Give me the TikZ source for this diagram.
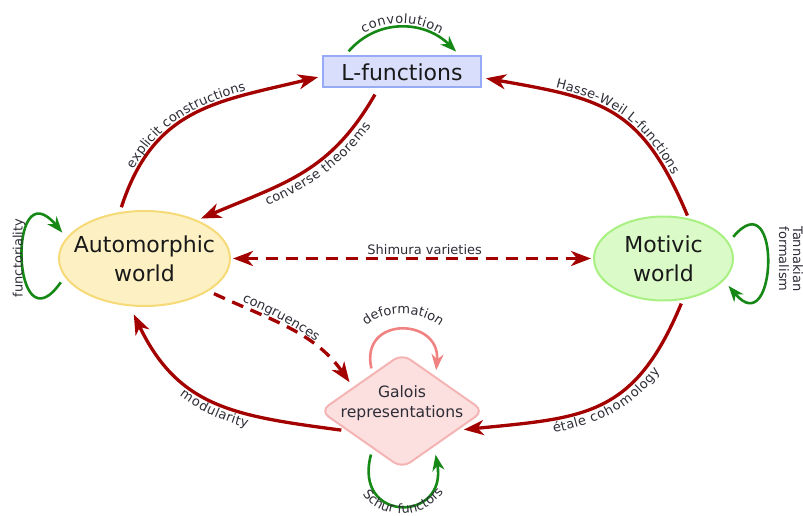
\documentclass[tikz,border=0pt]{standalone}
\usepackage{fontspec}
\setmainfont{DejaVu Sans}
\usetikzlibrary{arrows.meta,shapes.geometric,decorations.text}
\definecolor{redc}{RGB}{163,0,0}
\definecolor{grnc}{RGB}{22,136,22}
\definecolor{pinkc}{RGB}{240,130,130}
\definecolor{labc}{RGB}{45,45,55}
\definecolor{txtc}{RGB}{25,25,25}
\definecolor{Lfill}{RGB}{216,222,252}
\definecolor{Lbord}{RGB}{150,170,245}
\definecolor{Afill}{RGB}{253,241,196}
\definecolor{Abord}{RGB}{246,218,120}
\definecolor{Mfill}{RGB}{218,250,200}
\definecolor{Mbord}{RGB}{168,240,130}
\definecolor{Gfill}{RGB}{252,223,223}
\definecolor{Gbord}{RGB}{245,180,180}
\newcommand\lblfont{\fontsize{13pt}{15pt}\selectfont}
\newcommand\bigfont{\fontsize{22pt}{29pt}\selectfont}
\newcommand\galfont{\fontsize{15.6pt}{20pt}\selectfont}
\begin{document}
\begin{tikzpicture}[x=1pt,y=1pt,
  redarr/.style={draw=redc,line width=3.3pt,-{Stealth[length=20pt,width=15pt,inset=6pt]}},
  grnarr/.style={draw=grnc,line width=2.6pt,-{Stealth[length=16pt,width=12pt,inset=5pt]}},
  pinkarr/.style={draw=pinkc,line width=2.6pt,-{Stealth[length=16pt,width=12pt,inset=5pt]}},
  dashline/.style={dash pattern=on 12pt off 8pt},
  along/.style 2 args={decorate,decoration={text along path,text={|\lblfont|#2},text align=center,raise=#1,text color=labc}},
  alongl/.style n args={3}{decorate,decoration={text along path,text={|\lblfont|#2},text align={left indent=#3},raise=#1,text color=labc}},
  lbl/.style={font=\lblfont,text=labc,inner sep=1.5pt},
  Lbox/.style={rectangle,draw=Lbord,fill=Lfill,line width=2pt,minimum width=158pt,minimum height=31pt,inner sep=0pt,font=\bigfont,text=txtc},
  Aell/.style={ellipse,draw=Abord,fill=Afill,line width=2pt,minimum width=171pt,minimum height=95pt,inner sep=0pt},
  Mell/.style={ellipse,draw=Mbord,fill=Mfill,line width=2pt,minimum width=139pt,minimum height=84pt,inner sep=0pt},
  Gdia/.style={diamond,draw=Gbord,fill=Gfill,line width=2pt,minimum width=164pt,minimum height=115pt,inner sep=0pt,rounded corners=10pt},
  bigtxt/.style={font=\bigfont,text=txtc,align=center,inner sep=0pt},
  galtxt/.style={font=\galfont,text=labc,align=center,inner sep=0pt},
]
\useasboundingbox (0,0) rectangle (803,-516);

% nodes
\node[Lbox] (L) at (402,-72) {L-functions};
\node[Aell] (A) at (144.5,-258.5) {};
\node[bigtxt] (At) at (A) {Automorphic\\world};
\node[Mell] (M) at (663.5,-258.5) {};
\node[bigtxt] (Mt) at (M) {Motivic\\world};
\node[Gdia] (G) at (402,-411) {};
\node[galtxt] (Gt) at (402,-403) {Galois\\representations};

% explicit constructions
\draw[redarr,shorten <=5pt,shorten >=4pt] (A.118) to[out=72,in=193.5,looseness=1.15] (L.183);
\path[alongl={4pt}{explicit constructions}{44pt}] (A.118) to[out=72,in=193.5,looseness=1.15] (L.183);

% converse theorems
\draw[redarr,shorten <=7pt,shorten >=4pt] (L.215.7) to[out=240,in=23,looseness=1.1] (A.36.8);
\path[alongl={-14pt}{converse theorems}{70pt}] (A.36.8) to[out=23,in=240,looseness=1.1] (L.215.7);

% Hasse-Weil
\draw[redarr,shorten <=3pt,shorten >=4pt] (M.58.4) to[out=112.8,in=-10,looseness=1.25] (L.356.6);
\path[alongl={4pt}{Hasse-Weil L-functions}{74pt}] (L.356.6) to[out=-10,in=112.8,looseness=1.25] (M.58.4);

% Shimura varieties
\draw[draw=redc,line width=3.3pt,dashline,{Stealth[length=20pt,width=15pt,inset=6pt]}-{Stealth[length=20pt,width=15pt,inset=6pt]},shorten <=2pt,shorten >=2pt] (A.east) -- node[pos=0.535,above=1pt,lbl] (Sl) {Shimura varieties} (M.west);

% congruences
\draw[redarr,dashline,shorten <=6pt,shorten >=6pt] (A.333.9) to[out=-25,in=125] (G.154.3);
\path[alongl={4pt}{congruences}{35pt}] (A.333.9) to[out=-25,in=125] (G.154.3);

% modularity
\draw[redarr,shorten <=6pt,shorten >=9pt] (G.200.4) to[out=172.4,in=-64.4,looseness=1.15] (A.253.7);
\path[along={-14pt}{modularity}] (A.253.7) to[out=-64.4,in=172.4,looseness=1.15] (G.200.4);

% etale cohomology
\draw[redarr,shorten <=4pt,shorten >=6pt] (M.295.2) to[out=247.5,in=5.7,looseness=1.25] (G.341);
\path[alongl={-14pt}{étale cohomology}{94pt}] (G.341) to[out=5.7,in=247.5,looseness=1.25] (M.295.2);

% convolution
\draw[grnarr,shorten <=5.5pt,shorten >=5.5pt] ([xshift=-57pt]L.north) to[out=49,in=135,looseness=1.11] ([xshift=58pt]L.north);
\path[along={5pt}{convolution}] ([xshift=-57pt]L.north) to[out=49,in=135,looseness=1.11] ([xshift=58pt]L.north);

% functoriality
\draw[grnarr,shorten <=6.5pt,shorten >=6.5pt] (A.193) to[out=235,in=130,looseness=6] (A.165);
\node[lbl,rotate=90] (Fl) at (19,-258) {functoriality};

% Tannakian formalism
\draw[grnarr,shorten <=7pt,shorten >=7pt] (M.14) to[out=50,in=-50,looseness=5.5] (M.340.6);
\node[lbl,rotate=-90,align=center,font=\fontsize{13pt}{14pt}\selectfont] (Tl) at (791,-259) {Tannakian\\formalism};

% deformation
\draw[pinkarr,shorten <=5pt,shorten >=6pt] (G.128) to[out=103,in=85,looseness=2.4] (G.46.5);
\path[along={0pt}{deformation}] (364,-327) .. controls (385,-309) and (420,-309) .. (442,-328);

% Schur functors
\draw[grnarr,shorten <=6pt,shorten >=8pt] (G.232.7) to[out=255,in=280,looseness=3.2] (G.312.8);
\path[along={0pt}{Schur functors}] (360,-490) .. controls (378,-522) and (426,-522) .. (446,-488);
\end{tikzpicture}
\end{document}
